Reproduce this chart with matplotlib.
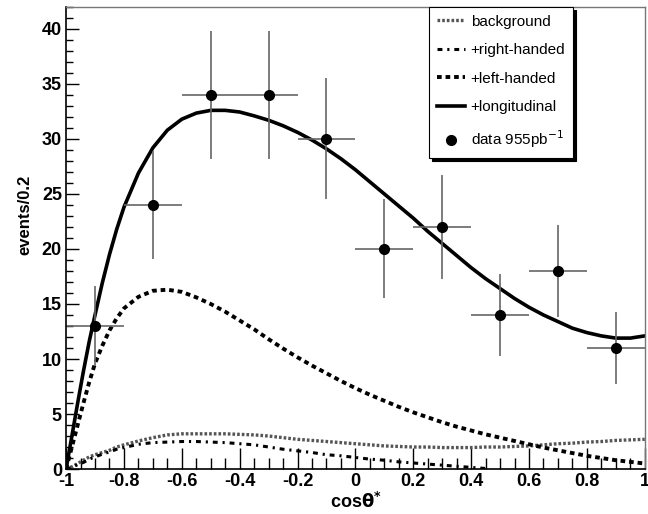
import numpy as np
import matplotlib
matplotlib.use('Agg')
import matplotlib.pyplot as plt
from matplotlib.ticker import MultipleLocator

plt.rcParams['font.family'] = ['Liberation Sans', 'DejaVu Sans']

# measured data points
x_data = [-0.9, -0.7, -0.5, -0.3, -0.1, 0.1, 0.3, 0.5, 0.7, 0.9]
y_data = [13, 24, 34, 34, 30, 20, 22, 14, 18, 11]
y_err = [3.6, 4.9, 5.8, 5.8, 5.5, 4.5, 4.7, 3.7, 4.2, 3.3]
x_err = [0.1] * 10

# fit curves
x_curve = [-1.0, -0.98, -0.96, -0.94, -0.92, -0.9, -0.875, -0.85, -0.825, -0.8,
           -0.75, -0.7, -0.65, -0.6, -0.55, -0.5, -0.45, -0.4, -0.35, -0.3,
           -0.25, -0.2, -0.15, -0.1, -0.05, 0.0, 0.05, 0.1, 0.15, 0.2,
           0.25, 0.3, 0.35, 0.4, 0.45, 0.5, 0.55, 0.6, 0.65, 0.7,
           0.75, 0.8, 0.85, 0.9, 0.95, 1.0]
longitudinal = [0, 3.0, 6.0, 8.9, 11.6, 14.0, 16.9, 19.5, 21.8, 23.8,
                26.9, 29.2, 30.8, 31.8, 32.35, 32.6, 32.6, 32.45, 32.1, 31.7,
                31.2, 30.6, 29.9, 29.1, 28.2, 27.2, 26.1, 25.0, 23.9, 22.8,
                21.6, 20.5, 19.4, 18.3, 17.3, 16.4, 15.5, 14.7, 14.0, 13.4,
                12.8, 12.4, 12.1, 11.9, 11.9, 12.1]
left_handed = [0, 2.0, 4.0, 6.0, 7.9, 9.6, 11.2, 12.6, 13.7, 14.6,
               15.65, 16.2, 16.3, 16.1, 15.6, 15.0, 14.3, 13.5, 12.7, 11.8,
               10.95, 10.15, 9.4, 8.7, 8.0, 7.35, 6.75, 6.2, 5.65, 5.15,
               4.7, 4.25, 3.85, 3.5, 3.15, 2.85, 2.55, 2.25, 1.95, 1.7,
               1.45, 1.2, 1.0, 0.8, 0.65, 0.5]
background = [0, 0.2, 0.5, 0.8, 1.1, 1.3, 1.5, 1.7, 2.0, 2.2,
              2.55, 2.85, 3.1, 3.2, 3.2, 3.2, 3.2, 3.15, 3.1, 3.0,
              2.85, 2.7, 2.6, 2.5, 2.4, 2.3, 2.2, 2.1, 2.05, 2.0,
              2.0, 1.95, 1.95, 1.95, 2.0, 2.0, 2.05, 2.1, 2.2, 2.3,
              2.35, 2.45, 2.5, 2.6, 2.65, 2.7]
right_handed = [0, 0.15, 0.4, 0.6, 0.9, 1.1, 1.35, 1.55, 1.8, 1.95,
                2.25, 2.4, 2.45, 2.5, 2.5, 2.45, 2.4, 2.3, 2.2, 2.0,
                1.8, 1.65, 1.5, 1.3, 1.2, 1.05, 0.9, 0.8, 0.65, 0.55,
                0.45, 0.35, 0.25, 0.15, 0.05]

fig = plt.figure(figsize=(6.48, 5.14), dpi=100)
ax = fig.add_axes([0.102, 0.0875, 0.893, 0.899])

ax.plot(x_curve, background, color='#555555', lw=2.4, linestyle=(0, (0.8, 0.6)),
        label='background')
ax.plot(x_curve[:len(right_handed)], right_handed, color='black', lw=2.2,
        linestyle=(0, (1.6, 1.6, 0.7, 1.6)), label='+right-handed')
ax.plot(x_curve, left_handed, color='black', lw=2.8, linestyle=(0, (1.2, 1.0)),
        label='+left-handed')
ax.plot(x_curve, longitudinal, color='black', lw=2.6, label='+longitudinal')

ax.errorbar(x_data, y_data, xerr=x_err, yerr=y_err, fmt='none', ecolor='#666666',
            elinewidth=1.2, capsize=0)
ax.plot(x_data, y_data, 'o', color='black', markersize=7, label='data 955pb$^{-1}$')

ax.set_xlim(-1, 1)
ax.set_ylim(0, 42)
ax.xaxis.set_minor_locator(MultipleLocator(0.05))
ax.yaxis.set_major_locator(MultipleLocator(5))
ax.yaxis.set_minor_locator(MultipleLocator(1))
ax.set_xticks([-1, -0.8, -0.6, -0.4, -0.2, 0, 0.2, 0.4, 0.6, 0.8, 1])
ax.set_xticklabels(['-1', '-0.8', '-0.6', '-0.4', '-0.2', '0', '0.2', '0.4', '0.6', '0.8', '1'])
ax.tick_params(axis='x', which='major', direction='in', length=15, width=1, labelsize=13, pad=3)
ax.tick_params(axis='x', which='minor', direction='in', length=8, width=1)
ax.tick_params(axis='y', which='major', direction='in', length=9, width=1, labelsize=13, pad=3)
ax.tick_params(axis='y', which='minor', direction='in', length=5, width=1)
for lab in ax.get_xticklabels() + ax.get_yticklabels():
    lab.set_fontweight('bold')

for side in ['top', 'right']:
    ax.spines[side].set_color('#777777')
    ax.spines[side].set_linewidth(1)
ax.spines['bottom'].set_linewidth(1.2)
ax.spines['left'].set_linewidth(1.2)

ax.set_xlabel(r'cos$\mathbf{\theta^{*}}$', fontsize=13, fontweight='bold', labelpad=1)
ax.set_ylabel('events/0.2', fontsize=12, fontweight='bold')
ax.yaxis.set_label_coords(-0.058, 0.55)

leg = ax.legend(loc='upper right', bbox_to_anchor=(0.876, 1.0), fontsize=11,
                frameon=True, fancybox=False, edgecolor='black', framealpha=1,
                shadow={'color': 'black', 'alpha': 1}, handlelength=1.8,
                handletextpad=0.4, labelspacing=0.95, borderpad=0.5,
                borderaxespad=0)
leg.get_frame().set_linewidth(0.8)

fig.savefig('out.png', dpi=100)
